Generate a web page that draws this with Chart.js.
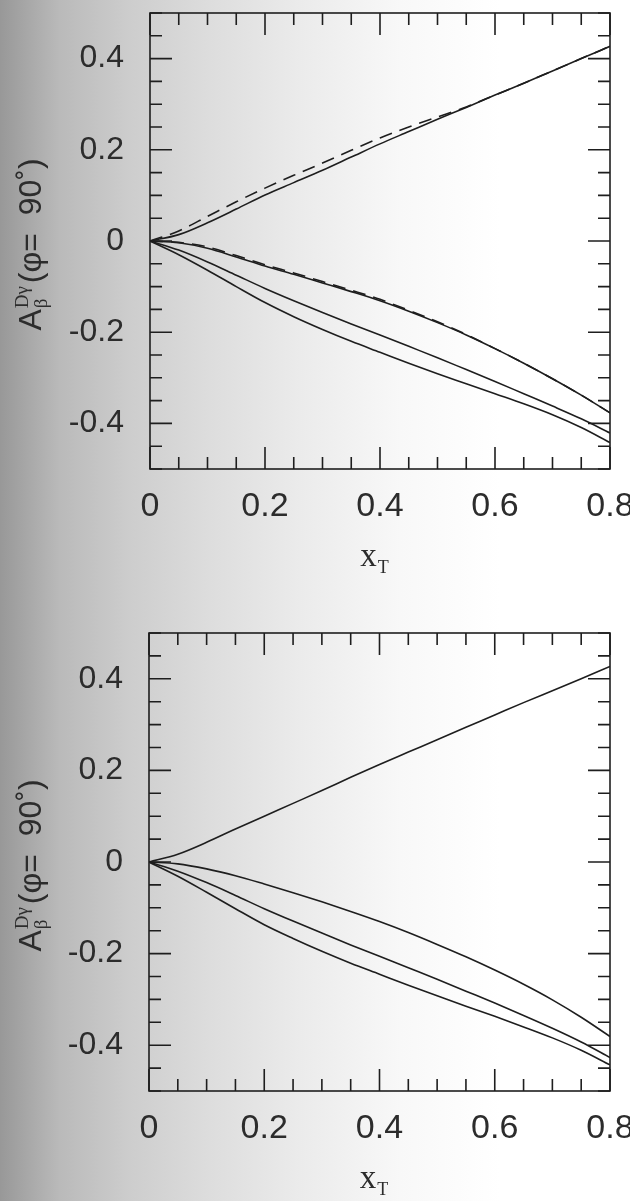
<!DOCTYPE html>
<html>
<head>
<meta charset="utf-8">
<script src="https://cdn.jsdelivr.net/npm/chart.js@4.4.1/dist/chart.umd.min.js"></script>
<style>
  html, body { margin: 0; padding: 0; }
  body {
    width: 630px; height: 1201px; overflow: hidden;
    background: linear-gradient(to right, #989898 0px, #bababa 60px, #cdcdcd 130px, #dddddd 210px, #ebebeb 300px, #f8f8f8 400px, #ffffff 500px);
  }
  canvas { display: block; }
</style>
</head>
<body>
<canvas id="topPanel" width="630" height="600"></canvas>
<canvas id="bottomPanel" width="630" height="601"></canvas>
<script>
// x_T sample positions
const xT = [0, 0.05, 0.1, 0.15, 0.2, 0.25, 0.3, 0.35, 0.4, 0.45, 0.5, 0.55, 0.6, 0.65, 0.7, 0.75, 0.8];

// upper panel
const topUpper = [0, 0.014, 0.04, 0.07, 0.101, 0.128, 0.155, 0.184, 0.213, 0.24, 0.267, 0.293, 0.32, 0.346, 0.373, 0.4, 0.427];
const topUpperDash = [0, 0.022, 0.054, 0.086, 0.116, 0.144, 0.171, 0.199, 0.226, 0.25, 0.272, 0.294, 0.32, 0.346, 0.373, 0.4, 0.427];
const topLow1 = [0, -0.004, -0.016, -0.035, -0.055, -0.073, -0.092, -0.111, -0.131, -0.154, -0.179, -0.206, -0.236, -0.268, -0.302, -0.338, -0.377];
const topLow1Dash = [0, -0.003, -0.013, -0.032, -0.052, -0.07, -0.089, -0.108, -0.128, -0.152, -0.177, -0.205, -0.236, -0.268, -0.302, -0.338, -0.377];
const topLow2 = [0, -0.02, -0.046, -0.075, -0.104, -0.131, -0.157, -0.182, -0.206, -0.231, -0.256, -0.282, -0.308, -0.335, -0.362, -0.39, -0.421];
const topLow3 = [0, -0.03, -0.064, -0.1, -0.135, -0.166, -0.194, -0.22, -0.244, -0.268, -0.291, -0.313, -0.335, -0.357, -0.381, -0.409, -0.442];

// lower panel
const botUpper = [0, 0.017, 0.043, 0.072, 0.1, 0.128, 0.156, 0.185, 0.213, 0.24, 0.267, 0.294, 0.321, 0.348, 0.374, 0.4, 0.427];
const botLow1 = [0, -0.004, -0.015, -0.03, -0.048, -0.067, -0.087, -0.108, -0.13, -0.154, -0.18, -0.207, -0.236, -0.267, -0.301, -0.339, -0.381];
const botLow2 = [0, -0.02, -0.045, -0.073, -0.102, -0.129, -0.155, -0.181, -0.206, -0.231, -0.256, -0.282, -0.308, -0.335, -0.363, -0.393, -0.427];
const botLow3 = [0, -0.031, -0.066, -0.102, -0.137, -0.167, -0.195, -0.221, -0.245, -0.269, -0.292, -0.315, -0.337, -0.36, -0.384, -0.411, -0.443];

const INK = "#1e1e1e";
const LABEL = "#2c2c2c";

const isMajor = (v) => Math.abs(v / 0.2 - Math.round(v / 0.2)) < 1e-6;
const tickLabel = (v) => {
  if (!isMajor(v)) return "";
  const r = Math.round(v * 10) / 10;
  return r === 0 ? "0" : r.toFixed(1);
};

const series = (ys, dashed) => ({
  data: xT.map((x, i) => ({ x, y: ys[i] })),
  borderColor: INK,
  borderWidth: 1.6,
  borderDash: dashed ? [13, 8] : [],
  pointRadius: 0,
  cubicInterpolationMode: "monotone",
  fill: false,
});

// inward tick marks on all four sides plus the frame
const frameTicks = {
  id: "frameTicks",
  afterDatasetsDraw(chart) {
    const { ctx, chartArea: a, scales } = chart;
    ctx.save();
    ctx.strokeStyle = INK;
    ctx.lineWidth = 1.6;
    ctx.strokeRect(a.left, a.top, a.right - a.left, a.bottom - a.top);
    ctx.beginPath();
    scales.x.ticks.forEach((t) => {
      const px = scales.x.getPixelForValue(t.value);
      const len = isMajor(t.value) ? 22 : 12;
      ctx.moveTo(px, a.bottom); ctx.lineTo(px, a.bottom - len);
      ctx.moveTo(px, a.top); ctx.lineTo(px, a.top + len);
    });
    scales.y.ticks.forEach((t) => {
      const py = scales.y.getPixelForValue(t.value);
      const len = isMajor(t.value) ? 22 : 12;
      ctx.moveTo(a.left, py); ctx.lineTo(a.left + len, py);
      ctx.moveTo(a.right, py); ctx.lineTo(a.right - len, py);
    });
    ctx.stroke();
    ctx.restore();
  },
};

// axis titles: x_T below, A_beta^{D gamma}(phi = 90deg) rotated on the left
const axisTitles = {
  id: "axisTitles",
  afterDraw(chart) {
    const { ctx, chartArea: a } = chart;
    ctx.save();
    ctx.fillStyle = LABEL;
    ctx.textBaseline = "alphabetic";

    // x title
    const cx = (a.left + a.right) / 2 - 6;
    const by = a.bottom + 97;
    ctx.font = "33px 'Liberation Serif', 'DejaVu Serif', serif";
    const wx = ctx.measureText("x").width;
    ctx.font = "18px 'Liberation Serif', 'DejaVu Serif', serif";
    const wt = ctx.measureText("T").width;
    const x0 = cx - (wx + wt) / 2;
    ctx.font = "33px 'Liberation Serif', 'DejaVu Serif', serif";
    ctx.textAlign = "left";
    ctx.fillText("x", x0, by);
    ctx.font = "18px 'Liberation Serif', 'DejaVu Serif', serif";
    ctx.fillText("T", x0 + wx + 1, by + 7);

    // y title
    const big = "32px 'Liberation Sans', Arial, sans-serif";
    const small = "19px 'Liberation Serif', 'DejaVu Serif', serif";
    ctx.font = big;
    const wA = ctx.measureText("A").width;
    const tail = "(\u03c6=  90\u02da)";
    const wTail = ctx.measureText(tail).width;
    ctx.font = small;
    const wSub = ctx.measureText("\u03b2").width;
    const wSup = ctx.measureText("D\u03b3").width;
    const wMid = Math.max(wSub, wSup) + 3;
    const total = wA + wMid + wTail;
    ctx.translate(41, (a.top + a.bottom) / 2 + 4);
    ctx.rotate(-Math.PI / 2);
    let p = -total / 2;
    ctx.font = big;
    ctx.fillText("A", p, 0);
    p += wA + 1;
    ctx.font = small;
    ctx.fillText("\u03b2", p, 6);
    ctx.fillText("D\u03b3", p, -13);
    p += wMid;
    ctx.font = big;
    ctx.fillText(tail, p, 0);
    ctx.restore();
  },
};

const makePanel = (id, datasets, area) => {
  const canvas = document.getElementById(id);
  const W = canvas.width;
  const H = canvas.height;
  return new Chart(canvas.getContext("2d"), {
    type: "line",
    data: { datasets },
    options: {
      responsive: false,
      animation: false,
      events: [],
      layout: { padding: { top: area.top, right: W - area.right, left: 0, bottom: 0 } },
      plugins: { legend: { display: false }, tooltip: { enabled: false } },
      scales: {
        x: {
          type: "linear",
          min: 0,
          max: 0.8,
          grid: { display: false, drawTicks: false },
          border: { display: false },
          ticks: {
            stepSize: 0.05,
            autoSkip: false,
            maxRotation: 0,
            padding: 17,
            color: LABEL,
            font: { family: "'Liberation Sans', Arial, sans-serif", size: 34 },
            callback: tickLabel,
          },
          afterFit: (scale) => {
            scale.height = H - area.bottom;
            scale.paddingLeft = 0;
            scale.paddingRight = 0;
          },
        },
        y: {
          type: "linear",
          min: -0.5,
          max: 0.5,
          grid: { display: false, drawTicks: false },
          border: { display: false },
          ticks: {
            stepSize: 0.05,
            autoSkip: false,
            padding: 26,
            color: LABEL,
            font: { family: "'Liberation Sans', Arial, sans-serif", size: 32 },
            callback: tickLabel,
          },
          afterFit: (scale) => {
            scale.width = area.left;
            scale.paddingTop = 0;
            scale.paddingBottom = 0;
          },
        },
      },
    },
    plugins: [frameTicks, axisTitles],
  });
};

makePanel(
  "topPanel",
  [
    series(topUpper, false),
    series(topUpperDash, true),
    series(topLow1, false),
    series(topLow1Dash, true),
    series(topLow2, false),
    series(topLow3, false),
  ],
  { top: 13, bottom: 469, left: 150, right: 610 }
);

makePanel(
  "bottomPanel",
  [
    series(botUpper, false),
    series(botLow1, false),
    series(botLow2, false),
    series(botLow3, false),
  ],
  { top: 33, bottom: 491, left: 149, right: 610 }
);
</script>
</body>
</html>
